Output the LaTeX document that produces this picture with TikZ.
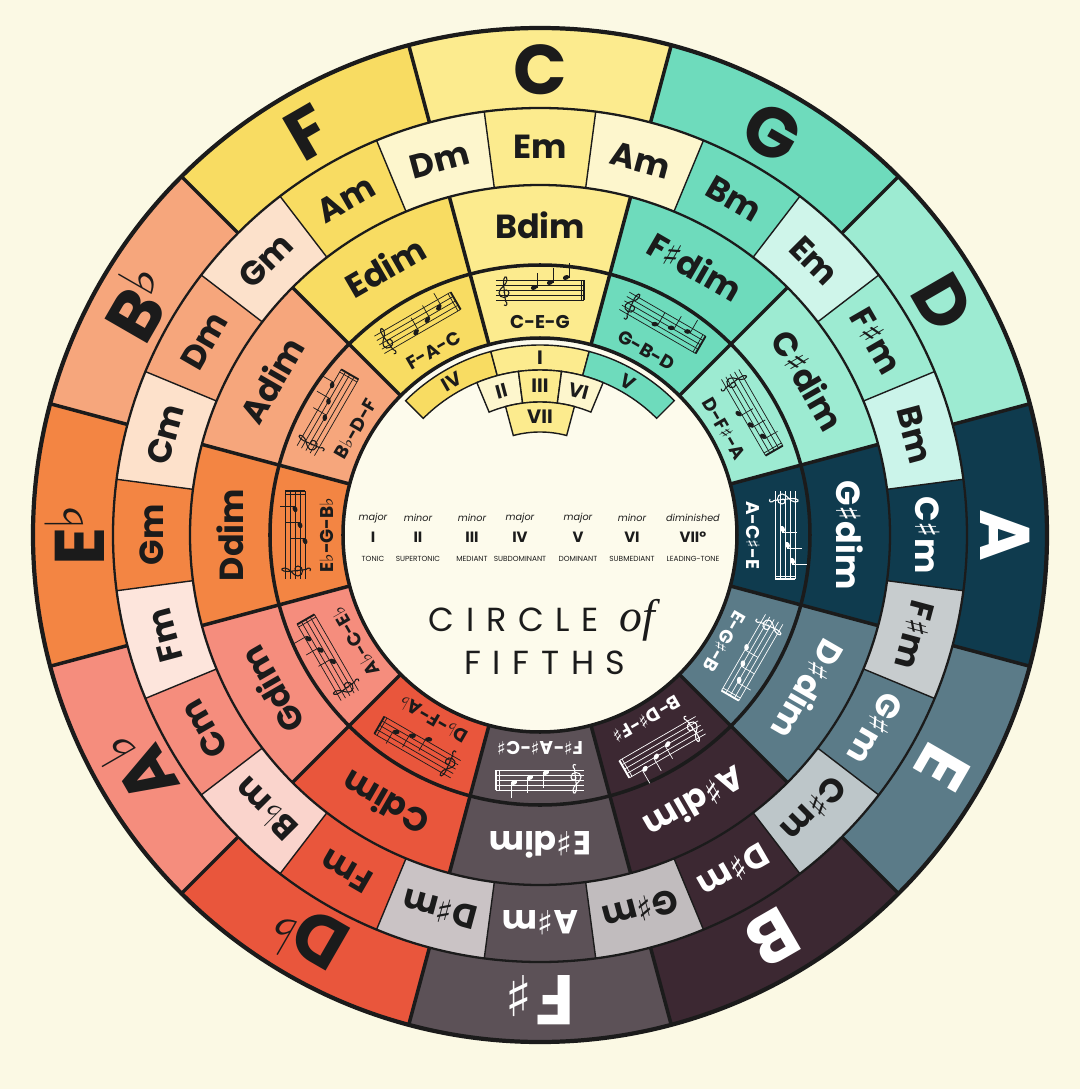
\documentclass[tikz,border=0pt]{standalone}
\usepackage{fontspec}
\setmainfont{Poppins}
\newfontfamily\musicsym{DejaVu Sans}
\newfontfamily\titleserif{Liberation Serif}
\usetikzlibrary{calc}

\definecolor{paper}{HTML}{FBF9E4}
\definecolor{hub}{HTML}{FDFBEC}
\definecolor{inkdark}{HTML}{1B1B1B}
% key colours
\definecolor{keyC}{HTML}{FCEB8E}
\definecolor{keyG}{HTML}{6EDBBC}
\definecolor{keyD}{HTML}{9DEBD2}
\definecolor{keyA}{HTML}{0F3B4E}
\definecolor{keyE}{HTML}{5B7B88}
\definecolor{keyB}{HTML}{3C2832}
\definecolor{keyFs}{HTML}{5C5157}
\definecolor{keyDb}{HTML}{E9563C}
\definecolor{keyAb}{HTML}{F58D7D}
\definecolor{keyEb}{HTML}{F38543}
\definecolor{keyBb}{HTML}{F6A67C}
\definecolor{keyF}{HTML}{F8DC62}
% shared (relative minor) cells
\definecolor{shCG}{HTML}{FDF6CD}
\definecolor{shGD}{HTML}{CFF5EA}
\definecolor{shDA}{HTML}{CBF4EA}
\definecolor{shAE}{HTML}{C7CCCE}
\definecolor{shEB}{HTML}{BDC6C9}
\definecolor{shBFs}{HTML}{C1BCBE}
\definecolor{shFsDb}{HTML}{CAC3C5}
\definecolor{shDbAb}{HTML}{FAD4CC}
\definecolor{shAbEb}{HTML}{FDE5DC}
\definecolor{shEbBb}{HTML}{FDE1CB}
\definecolor{shBbF}{HTML}{FCE1CB}
\definecolor{shFC}{HTML}{FDF6CD}

\newcommand{\msharp}{{\musicsym\mdseries ♯}}
\newcommand{\mflat}{{\musicsym\mdseries ♭}}
\newcommand{\kflat}{\kern-1pt\raisebox{.3em}{\musicsym\mdseries\fontsize{30}{30}\selectfont ♭}}
\newcommand{\ksharp}{\kern2pt{\musicsym\mdseries\fontsize{32}{32}\selectfont ♯}}

% annular cell: style, start angle, end angle, inner r, outer r
\newcommand{\ringcell}[5]{\path[#1] (#2:#4) arc[start angle=#2, end angle=#3, radius=#4]
  -- (#3:#5) arc[start angle=#3, end angle=#2, radius=#5] -- cycle;}

% little staff: angle, colour, height of root note
\newcommand{\drawstaff}[3]{%
  \begin{scope}[shift={(#1:245)}, rotate=#1-90, color=#2]
    \foreach \l in {-10,-5,...,10} {\draw[staffline] (-44,\l) -- (44,\l);}
    \draw[staffline] (41,-10) -- (41,10);
    \draw[line width=1.1pt] (44,-10) -- (44,10);
    \draw[clefline] (-36,-15) .. controls (-33,-17) and (-32,-13) .. (-34.5,-11) -- (-36.5,7)
      .. controls (-37,13) and (-33,16) .. (-33,10) .. controls (-33,5) and (-41,2) .. (-41,-3)
      .. controls (-41,-9) and (-31,-9) .. (-31,-3) .. controls (-31,1) and (-37,1) .. (-36,-3);
    \foreach \n in {0,1,2} {
      \fill[rotate around={25:(-6+16*\n,#3+5*\n)}] (-6+16*\n,#3+5*\n) ellipse[x radius=3.3, y radius=2.3];
      \draw[staffline] (-3+16*\n,#3+5*\n) -- ++(0,15);
    }
  \end{scope}}

% key / colour / text / iii / vi / shared colour / vii / triad / root
\def\keylist{C/keyC/inkdark/Em/Am/shCG/Bdim/C-E-G/2.5,
 G/keyG/inkdark/Bm/Em/shGD/F\msharp dim/G-B-D/-5,
 D/keyD/inkdark/F\msharp m/Bm/shDA/C\msharp dim/D-F\msharp-A/-12.5,
 A/keyA/white/C\msharp m/F\msharp m/shAE/G\msharp dim/A-C\msharp-E/-2.5,
 E/keyE/white/G\msharp m/C\msharp m/shEB/D\msharp dim/E-G\msharp-B/-10,
 B/keyB/white/D\msharp m/G\msharp m/shBFs/A\msharp dim/B-D\msharp-F\msharp/0,
 F\ksharp/keyFs/white/A\msharp m/D\msharp m/shFsDb/E\msharp dim/F\msharp-A\msharp-C\msharp/-7.5,
 D\kflat/keyDb/inkdark/Fm/B\mflat m/shDbAb/Cdim/D\mflat-F-A\mflat/-12.5,
 A\kflat/keyAb/inkdark/Cm/Fm/shAbEb/Gdim/A\mflat-C-E\mflat/-2.5,
 E\kflat/keyEb/inkdark/Gm/Cm/shEbBb/Ddim/E\mflat-G-B\mflat/-10,
 B\kflat/keyBb/inkdark/Dm/Gm/shBbF/Adim/B\mflat-D-F/0,
 F/keyF/inkdark/Am/Dm/shFC/Edim/F-A-C/-7.5}

\begin{document}
\begin{tikzpicture}[
  x=0.2mm, y=0.2mm,
  rim/.style={line width=2.4pt, draw=inkdark},
  spoke/.style={line width=2pt, draw=inkdark},
  ringline/.style={line width=1.3pt, draw=inkdark},
  cellline/.style={line width=0.8pt, draw=inkdark},
  romancell/.style={draw=inkdark, line width=0.8pt},
  keylbl/.style={font=\fontsize{40}{40}\selectfont\bfseries, inner sep=0pt},
  chordlbl/.style={font=\fontsize{19}{19}\selectfont\bfseries, inner sep=0pt},
  triadlbl/.style={font=\fontsize{10.5}{10.5}\selectfont\bfseries, inner sep=0pt},
  numlbl/.style={font=\fontsize{11}{11}\selectfont\bfseries, inner sep=0pt, text=inkdark},
  qual/.style={font=\fontsize{5.5}{5.5}\selectfont\itshape, inner sep=0pt, text=inkdark},
  degree/.style={font=\fontsize{8.5}{8.5}\selectfont\bfseries, inner sep=0pt, text=inkdark},
  func/.style={font=\fontsize{4.2}{4.2}\selectfont, inner sep=0pt, text=inkdark},
  title/.style={font=\fontsize{19}{19}\selectfont\addfontfeature{LetterSpace=35}, inner sep=0pt, text=inkdark},
  staffline/.style={line width=0.4pt},
  clefline/.style={line width=0.6pt}
]
\useasboundingbox (-540,-554) rectangle (540,535);
\fill[paper] (-540,-554) rectangle (540,535);

% coloured cells, C at the top, clockwise
\foreach \keyname/\col/\txt/\iii/\vi/\shcol/\dimname/\triad/\rootpos [count=\i from 0] in \keylist {
  \pgfmathsetmacro{\a}{90-30*\i}
  \ringcell{fill=\col}{\a-15}{\a+15}{427}{507}
  \ringcell{fill=\col}{\a-7.5}{\a+7.5}{350}{427}
  \ringcell{fill=\shcol}{\a-22.5}{\a-7.5}{350}{427}
  \ringcell{fill=\col}{\a-15}{\a+15}{197}{350}
}
\fill[hub] (0,0) circle[radius=197];

% ring borders and spokes
\draw[rim] (0,0) circle[radius=507];
\draw[ringline] (0,0) circle[radius=427] (0,0) circle[radius=350];
\draw[spoke] (0,0) circle[radius=270] (0,0) circle[radius=197];
\foreach \b in {15,45,...,345} {
  \draw[spoke] (\b:427) -- (\b:507);
  \draw[spoke] (\b:197) -- (\b:350);
}
\foreach \b in {7.5,22.5,...,352.5} \draw[cellline] (\b:350) -- (\b:427);

% labels and staves
\foreach \keyname/\col/\txt/\iii/\vi/\shcol/\dimname/\triad/\rootpos [count=\i from 0] in \keylist {
  \pgfmathsetmacro{\a}{90-30*\i}
  \node[keylbl, text=\txt, rotate=\a-90] (key-\i) at (\a:465) {\keyname};
  \node[chordlbl, text=\txt, rotate=\a-90] (iii-\i) at (\a:388) {\iii};
  \node[chordlbl, text=inkdark, rotate=\a-105] (vi-\i) at (\a-15:388) {\vi};
  \node[chordlbl, text=\txt, rotate=\a-90] (dim-\i) at (\a:310) {\dimname};
  \node[triadlbl, text=\txt, rotate=\a-90] (triad-\i) at (\a:213) {\triad};
  \drawstaff{\a}{\txt}{\rootpos}
}

% degree key inside the hub
\ringcell{romancell, fill=keyF}{105}{135}{165}{190}
\ringcell{romancell, fill=keyC}{75}{105}{165}{190}
\ringcell{romancell, fill=keyG}{45}{75}{165}{190}
\ringcell{romancell, fill=shFC}{97.5}{112.5}{133}{165}
\ringcell{romancell, fill=keyC}{82.5}{97.5}{133}{165}
\ringcell{romancell, fill=shCG}{67.5}{82.5}{133}{165}
\ringcell{romancell, fill=keyC}{75}{105}{103}{133}
\node[numlbl, rotate=30] (num-iv) at (120:177) {IV};
\node[numlbl] (num-i) at (90:177) {I};
\node[numlbl, rotate=-30] (num-v) at (60:177) {V};
\node[numlbl, rotate=15] (num-ii) at (105:149) {II};
\node[numlbl] (num-iii) at (90:149) {III};
\node[numlbl, rotate=-15] (num-vi) at (75:149) {VI};
\node[numlbl] (num-vii) at (90:118) {VII};

% scale degrees
\foreach \x/\q/\r/\f [count=\j] in {-167/major/I/TONIC, -122/minor/II/SUPERTONIC,
  -68/minor/III/MEDIANT, -20/major/IV/SUBDOMINANT, 38/major/V/DOMINANT,
  92/minor/VI/SUBMEDIANT, 153/diminished/VII°/LEADING-TONE} {
  \node[qual] (qual-\j) at (\x,17) {\q};
  \node[degree] (deg-\j) at (\x,-2) {\r};
  \node[func] (func-\j) at (\x,-24) {\f};
}

\node[title] (title-a) at (2,-85) {CIRCLE {\titleserif\itshape\fontsize{26}{26}\selectfont of}};
\node[title] (title-b) at (5,-128) {FIFTHS};

\end{tikzpicture}
\end{document}
